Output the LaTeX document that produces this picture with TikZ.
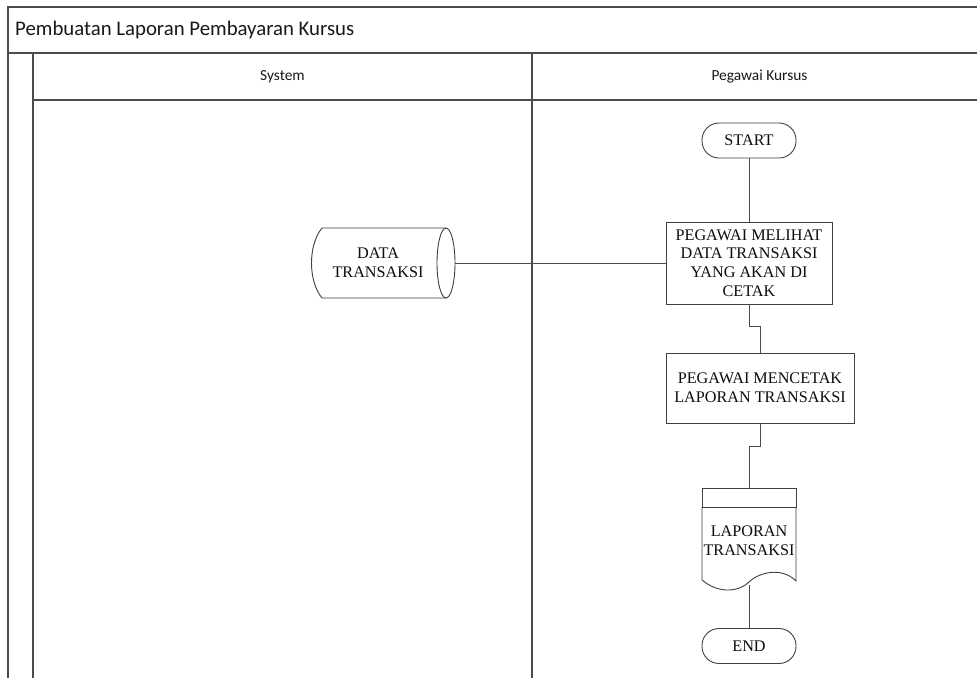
\documentclass[tikz,border=0pt]{standalone}
\usepackage{fontspec}
\setmainfont{Liberation Serif}
\newfontfamily\calfont{Carlito}
\begin{document}
\begin{tikzpicture}[x=1pt,y=-1pt,
  frame/.style={draw=black!70, line width=1.2pt},
  shp/.style={draw=black!75, line width=0.9pt},
  conn/.style={draw=black!70, line width=0.9pt},
  titletext/.style={font=\calfont\fontsize{20.8}{24}\selectfont, text=black!90, inner sep=0pt},
  lanetext/.style={font=\calfont\fontsize{15.4}{18}\selectfont, text=black!90, inner sep=0pt},
  flowtext/.style={font=\fontsize{16.2}{18.8}\selectfont, text=black!95, align=center, inner sep=0pt},
  termbox/.style={shp, rectangle, rounded corners=17pt, minimum width=94pt, minimum height=35pt, flowtext},
  procbox/.style={shp, rectangle, flowtext}
]
\useasboundingbox (0,0) rectangle (977,678);
\fill[white] (0,0) rectangle (977,678);

% swimlane frame
\draw[frame] (977,7) -- (8,7) -- (8,678);
\draw[frame] (8,53) -- (977,53);
\draw[frame] (33,53) -- (33,678);
\draw[frame] (33,100) -- (977,100);
\draw[frame] (532,53) -- (532,678);

\node[titletext, anchor=west] (title) at (15,30) {Pembuatan Laporan Pembayaran Kursus};
\node[lanetext] (lsys) at (282.5,77) {System};
\node[lanetext] (lpeg) at (759.5,77) {Pegawai Kursus};

% flow nodes
\node[termbox] (start) at (749,140.5) {START};
\node[procbox, minimum width=166pt, minimum height=82pt] (p1) at (749,263)
  {PEGAWAI MELIHAT\\DATA TRANSAKSI\\YANG AKAN DI\\CETAK};
\node[procbox, minimum width=188pt, minimum height=70pt] (p2) at (760,388)
  {PEGAWAI MENCETAK\\LAPORAN TRANSAKSI};
\node[termbox] (end) at (749,646) {END};

% data store
\node[flowtext] (ds) at (378,263) {DATA\\TRANSAKSI};
\draw[shp] (446,228) -- (322,228) .. controls (308,245) and (308,281) .. (322,298) -- (446,298);
\draw[shp] (446,263) ellipse [x radius=9, y radius=35];
\coordinate (dsR) at (455,263);

% document
\node[flowtext] (doc) at (749,541) {LAPORAN\\TRANSAKSI};
\draw[shp] (702,507) -- (702,488) -- (796,488) -- (796,507) -- cycle;
\draw[shp] (702,507) -- (702,580) .. controls (720,595) and (740,591) .. (749,582)
   .. controls (758,573) and (781,566) .. (796,581) -- (796,507);
\coordinate (docT) at (749,488);
\coordinate (docB) at (749,585);

% connectors
\draw[conn] (start) -- (p1);
\draw[conn] (dsR) -- (p1.west);
\draw[conn] (p1.south) -- ++(0,22) -| (p2.north);
\draw[conn] (p2.south) -- ++(0,23) -| (docT);
\draw[conn] (docB) -- (end);
\end{tikzpicture}
\end{document}
